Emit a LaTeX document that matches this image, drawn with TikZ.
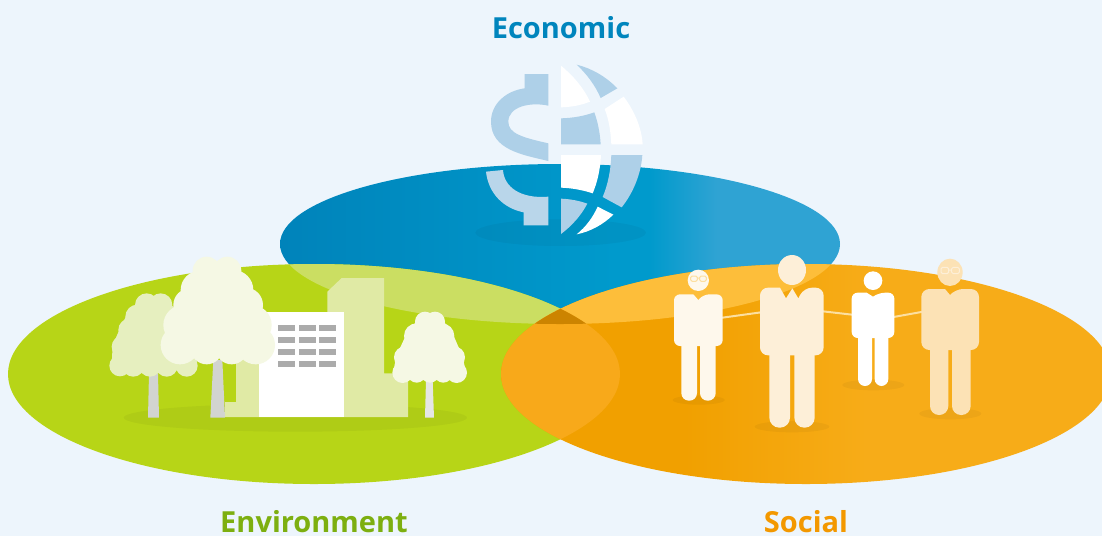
\documentclass[tikz,border=0pt]{standalone}
\usepackage{fontspec}
\setmainfont{Open Sans}
\definecolor{bgc}{HTML}{EDF5FC}
\definecolor{grn}{HTML}{B7D517}
\definecolor{grnblue}{HTML}{CBDE62}
\definecolor{orgblue}{HTML}{FDBE3A}
\definecolor{grnorg}{HTML}{F8A91A}
\definecolor{triple}{HTML}{CC8400}
\definecolor{ecoc}{HTML}{0085BD}
\definecolor{envc}{HTML}{7DAF10}
\definecolor{socc}{HTML}{F39800}
\definecolor{paleb}{HTML}{AED0E8}
\definecolor{palebb}{HTML}{B9D6EA}
\definecolor{bldg}{HTML}{E0EAA5}
\definecolor{win}{HTML}{ABABAB}
\definecolor{treea}{HTML}{E6EFBF}
\definecolor{treeb}{HTML}{F5F8E4}
\definecolor{trunka}{HTML}{D2D4D0}
\definecolor{trunkb}{HTML}{E5E6E4}
\definecolor{pa}{HTML}{FEF8EC}
\definecolor{pb}{HTML}{FDEFD8}
\definecolor{pd}{HTML}{FCE2B5}
\definecolor{link}{HTML}{FCDFA0}
\definecolor{sa}{HTML}{0083BA}
\definecolor{sb}{HTML}{009ACC}
\definecolor{sc}{HTML}{2FA3D3}
\definecolor{oa}{HTML}{F1A000}
\definecolor{ob}{HTML}{F7AC18}
\pgfdeclarehorizontalshading{blueh}{100bp}{color(0bp)=(sa); color(25bp)=(sa); color(55bp)=(sb); color(58bp)=(sb); color(64bp)=(sc); color(100bp)=(sc)}
\pgfdeclarehorizontalshading{orgh}{100bp}{color(0bp)=(oa); color(40bp)=(oa); color(55bp)=(ob); color(100bp)=(ob)}
\tikzset{
  title/.style={font=\bfseries\fontsize{29}{32}\selectfont,anchor=base,inner sep=0pt},
  zoomA/.style={shift={(460,50)},x=0.33333pt,y=-0.33333pt},
  zoomB/.style={shift={(100,250)},x=0.33333pt,y=-0.33333pt},
  zoomC/.style={shift={(660,250)},x=0.33333pt,y=-0.33333pt},
  shadowfill/.style={fill=black,fill opacity=.04},
  glasses/.style={line width=1pt,rounded corners=1.5pt}
}
\newcommand{\ellB}{(560,244) ellipse [x radius=280,y radius=80]}
\newcommand{\ellG}{(314,374) ellipse [x radius=306,y radius=110]}
\newcommand{\ellO}{(806,374) ellipse [x radius=305,y radius=110]}
\begin{document}
\begin{tikzpicture}[x=1pt,y=-1pt]
\useasboundingbox (0,0) rectangle (1102,536);
\fill[bgc] (0,0) rectangle (1102,536);
% ellipses
\shade[shading=blueh] \ellB;
\fill[grn] \ellG;
\shade[shading=orgh] \ellO;
\begin{scope}\clip \ellB; \fill[grnblue] \ellG; \fill[orgblue] \ellO; \end{scope}
\begin{scope}\clip \ellG; \fill[grnorg] \ellO; \end{scope}
\begin{scope}\clip \ellB; \clip \ellG; \fill[triple] \ellO; \end{scope}
% economic icon
\begin{scope}[zoomA]
\fill[shadowfill] (302,548) ellipse [x radius=256,y radius=40];
\fill[paleb] (194,72)--(265,72)--(265,167) .. controls (210,155) and (145,170) .. (145,215) .. controls (145,250) and (185,262) .. (265,280) -- (265,333) .. controls (190,315) and (93,300) .. (93,215) .. controls (93,160) and (140,122) .. (194,115) -- cycle;
\fill[palebb] (78,365) -- (129,360) .. controls (132,410) and (180,447) .. (265,440) -- (265,526) -- (191,526) -- (191,487) .. controls (130,475) and (85,430) .. (78,365) -- cycle;
\fill[white] (303,47) .. controls (340,78) and (370,112) .. (390,155) .. controls (362,166) and (335,171) .. (303,172) -- cycle;
\fill[paleb] (350,44) .. controls (395,55) and (438,80) .. (472,115) -- (422,144) .. controls (405,105) and (380,72) .. (350,44) -- cycle;
\fill[white] (434,177) -- (491,140) .. controls (525,185) and (545,235) .. (548,283) -- (454,283) .. controls (452,245) and (447,210) .. (434,177) -- cycle;
\fill[paleb] (303,205) .. controls (340,204) and (372,198) .. (403,187) .. controls (414,218) and (420,250) .. (422,283) -- (303,283) -- cycle;
\fill[white] (303,315) -- (423,315) .. controls (421,355) and (413,395) .. (398,430) .. controls (368,420) and (335,414) .. (303,413) -- cycle;
\fill[paleb] (454,315) -- (547,315) .. controls (543,372) and (520,428) .. (485,472) -- (428,441) .. controls (445,400) and (452,360) .. (454,315) -- cycle;
\fill[paleb] (303,446) .. controls (330,447) and (357,452) .. (382,461) .. controls (363,497) and (336,527) .. (303,552) -- cycle;
\fill[white] (413,470) -- (460,494) .. controls (428,525) and (390,545) .. (350,553) .. controls (378,530) and (398,503) .. (413,470) -- cycle;
\end{scope}
% environment
\begin{scope}[zoomB]
\fill[shadowfill] (586,503) ellipse [x radius=515,y radius=42];
\fill[bldg] (682,125)--(725,84)--(852,84)--(852,370)--(924,370)--(924,501)--(375,501)--(375,456)--(408,456)--(408,300)--(682,300)--cycle;
\fill[white] (477,186) rectangle (732,501);
\foreach \wy in {225,261,297,333}{
  \fill[win] (534,\wy) rectangle +(51,18);
  \fill[win] (597,\wy) rectangle +(51,18);
  \fill[win] (657,\wy) rectangle +(51,18);
}
\fill[trunka] (147,370)--(174,370)--(177,503)--(144,503)--cycle;
\fill[treea] (110,170)--(80,195)--(58,240)--(38,285)--(35,345)--(290,345)--(280,200)--(210,165)--cycle;
\fill[treea] (140,165) circle [radius=35] (182,165) circle [radius=35] (112,200) circle [radius=36] (205,205) circle [radius=38] (90,240) circle [radius=35] (68,290) circle [radius=33] (60,347) circle [radius=32] (100,347) circle [radius=33] (150,347) circle [radius=33] (200,347) circle [radius=33] (260,347) circle [radius=33];
\fill[trunka] (340,330)--(367,330)--(375,503)--(331,503)--cycle;
\fill[treeb] (320,62) circle [radius=42] (382,62) circle [radius=42] (300,120) circle [radius=58] (400,120) circle [radius=60] (270,165) circle [radius=50] (437,165) circle [radius=52] (250,225) circle [radius=60] (455,225) circle [radius=60] (240,285) circle [radius=58] (467,285) circle [radius=58] (350,200) circle [radius=110] (320,295) circle [radius=48] (395,295) circle [radius=48];
\fill[trunkb] (978,390)--(998,390)--(1002,503)--(975,503)--cycle;
\fill[treeb] (948,215)--(918,255)--(888,320)--(880,368)--(1098,368)--(1088,320)--(1060,255)--(1032,215)--cycle;
\fill[treeb] (975,215) circle [radius=30] (1005,215) circle [radius=30] (950,258) circle [radius=38] (1025,258) circle [radius=38] (915,322) circle [radius=33] (1062,322) circle [radius=33] (908,368) circle [radius=31] (1070,368) circle [radius=31] (950,370) circle [radius=28] (990,370) circle [radius=28] (1030,370) circle [radius=28];
\end{scope}
% people
\begin{scope}[zoomC]
\fill[shadowfill] (116,450) ellipse [x radius=78,y radius=14];
\fill[shadowfill] (396,530) ellipse [x radius=112,y radius=17];
\fill[shadowfill] (640,405) ellipse [x radius=93,y radius=16];
\fill[shadowfill] (871,491) ellipse [x radius=93,y radius=17];
\draw[link,line width=2pt] (180,204)--(310,186) (480,183)--(585,195) (695,202)--(795,184);
% person 1
\fill[pa] (115,91) circle [radius=32];
\fill[pa] (100,133) [rounded corners=6pt] -- (42,133) -- (42,288) -- (188,288) -- (188,133) -- (130,133) [sharp corners] -- (115,150) -- cycle;
\fill[pa,rounded corners=7.5pt] (64,250) rectangle (111,452);
\fill[pa,rounded corners=7.5pt] (120,250) rectangle (167,452);
\draw[link,glasses] (92,78) rectangle (112,94) (119,78) rectangle (139,94) (112,84)--(119,84);
% person 2
\fill[pb] (396,60) ellipse [x radius=42,y radius=45];
\fill[pb] (360,113) [rounded corners=8pt] -- (300,113) -- (300,316) -- (491,316) -- (491,113) -- (432,113) [sharp corners] -- (415,145) -- (397,115) -- (378,145) -- cycle;
\fill[pb,rounded corners=10pt] (328,270) rectangle (390,533);
\fill[pb,rounded corners=10pt] (403,270) rectangle (464,533);
% person 3
\fill[white] (639,92) circle [radius=28];
\fill[white] (620,128) [rounded corners=6pt] -- (575,128) -- (575,264) -- (703,264) -- (703,128) -- (658,128) [sharp corners] -- (639,140) -- cycle;
\fill[white,rounded corners=7pt] (594,230) rectangle (636,408);
\fill[white,rounded corners=7pt] (644,230) rectangle (685,408);
% person 4
\fill[pd] (870,67) ellipse [x radius=38,y radius=41];
\fill[pd] (855,117) [rounded corners=8pt] -- (784,117) -- (784,300) -- (957,300) -- (957,117) -- (885,117) [sharp corners] -- (870,135) -- cycle;
\fill[pd,rounded corners=9pt] (810,260) rectangle (865,495);
\fill[pd,rounded corners=9pt] (876,260) rectangle (932,495);
\draw[pb,glasses] (843,52) rectangle (866,71) (875,52) rectangle (898,71) (866,60)--(875,60);
\end{scope}
% titles
\node[title,text=ecoc] (eco) at (561,38) {Economic};
\node[title,text=envc] (env) at (314,532.5) {Environment};
\node[title,text=socc] (soc) at (806,532.5) {Social};
\end{tikzpicture}
\end{document}
